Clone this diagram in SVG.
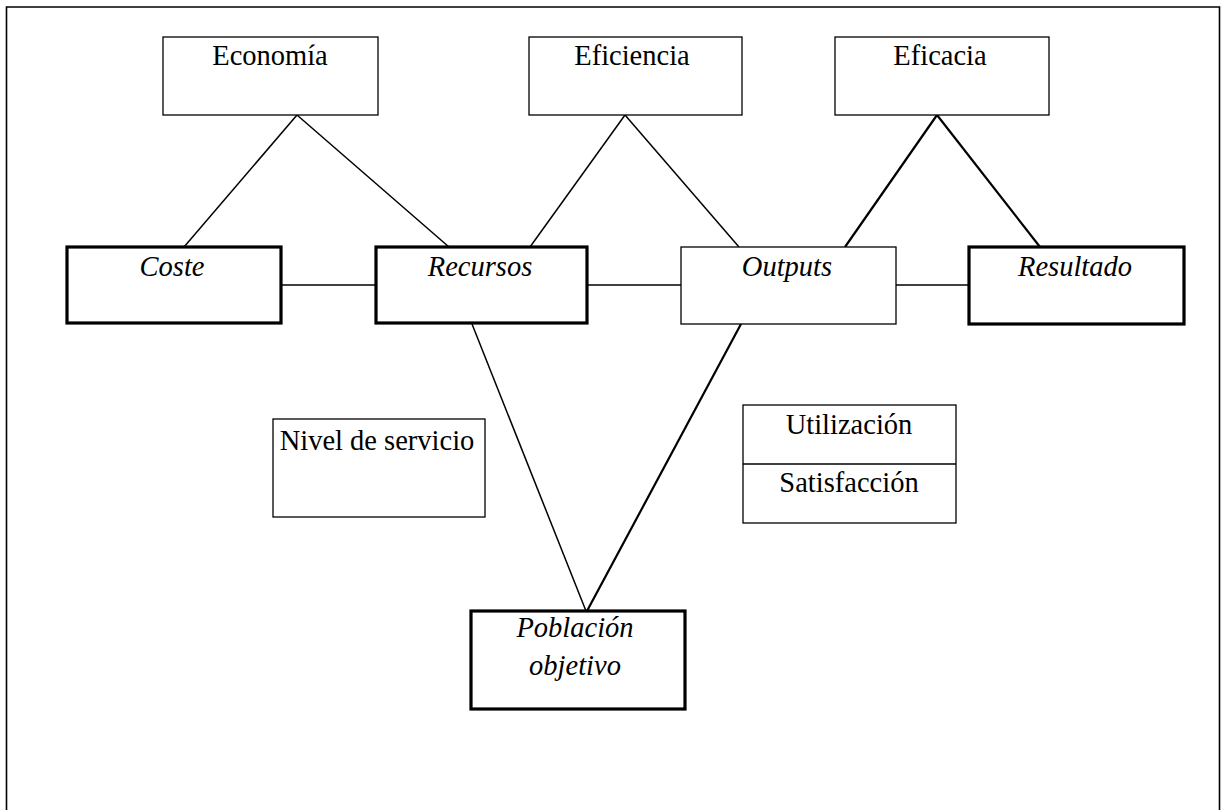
<svg xmlns="http://www.w3.org/2000/svg" width="1226" height="810" viewBox="0 0 1226 810">
  <defs>
    <style>
      .box { fill: #fff; stroke: #000; stroke-width: 1.3; }
      .bold { fill: #fff; stroke: #000; stroke-width: 3.2; }
      .link { stroke: #000; stroke-width: 1.5; fill: none; }
      .link2 { stroke: #000; stroke-width: 2.2; fill: none; }
      .lbl { font-family: "Liberation Serif", "Times New Roman", serif; font-size: 28.5px; fill: #000; text-anchor: middle; }
      .it { font-style: italic; }
    </style>
  </defs>
  <rect width="1226" height="810" fill="#fff"/>
  <!-- outer frame (open at the bottom) -->
  <path d="M6.5,812 V7 H1219.5 V812" fill="none" stroke="#000" stroke-width="1.6"/>

  <g id="connectors">
    <line class="link" x1="297" y1="115" x2="184" y2="247"/>
    <line class="link" x1="297" y1="115" x2="449" y2="247"/>
    <line class="link" x1="625" y1="115" x2="530" y2="247"/>
    <line class="link" x1="625" y1="115" x2="739" y2="247"/>
    <line class="link2" x1="937" y1="115" x2="845" y2="247"/>
    <line class="link2" x1="937" y1="115" x2="1040" y2="247"/>
    <line class="link" x1="281" y1="285" x2="376" y2="285"/>
    <line class="link" x1="587" y1="285" x2="681" y2="285"/>
    <line class="link" x1="896" y1="285" x2="969" y2="285"/>
    <line class="link" x1="472" y1="324" x2="586" y2="611"/>
    <line class="link2" x1="741" y1="324" x2="587" y2="611"/>
  </g>

  <g id="economia">
    <rect class="box" x="163" y="37" width="215" height="78"/>
    <text class="lbl" x="270" y="65" font-family="Liberation Serif, serif">Economía</text>
  </g>
  <g id="eficiencia">
    <rect class="box" x="529" y="37" width="213" height="78"/>
    <text class="lbl" x="632" y="65" font-family="Liberation Serif, serif">Eficiencia</text>
  </g>
  <g id="eficacia">
    <rect class="box" x="835" y="37" width="214" height="78"/>
    <text class="lbl" x="940" y="65" font-family="Liberation Serif, serif">Eficacia</text>
  </g>

  <g id="coste">
    <rect class="bold" x="67" y="247" width="214" height="76"/>
    <text class="lbl it" x="172" y="276" font-family="Liberation Serif, serif">Coste</text>
  </g>
  <g id="recursos">
    <rect class="bold" x="376" y="247" width="211" height="76"/>
    <text class="lbl it" x="480" y="276" font-family="Liberation Serif, serif">Recursos</text>
  </g>
  <g id="outputs">
    <rect class="box" x="681" y="247" width="215" height="77"/>
    <text class="lbl it" x="787" y="276" font-family="Liberation Serif, serif">Outputs</text>
  </g>
  <g id="resultado">
    <rect class="bold" x="969" y="247" width="215" height="77"/>
    <text class="lbl it" x="1075" y="276" font-family="Liberation Serif, serif">Resultado</text>
  </g>

  <g id="nivel-servicio">
    <rect class="box" x="273" y="419" width="212" height="98"/>
    <text class="lbl" x="377" y="450" font-family="Liberation Serif, serif">Nivel de servicio</text>
  </g>

  <g id="utilizacion-satisfaccion">
    <rect class="box" x="743" y="405" width="213" height="118"/>
    <line class="link" x1="743" y1="464" x2="956" y2="464"/>
    <text class="lbl" x="849" y="434" font-family="Liberation Serif, serif">Utilización</text>
    <text class="lbl" x="849" y="492" font-family="Liberation Serif, serif">Satisfacción</text>
  </g>

  <g id="poblacion-objetivo">
    <rect class="bold" x="471" y="611" width="214" height="98"/>
    <text class="lbl it" x="575" y="637" font-family="Liberation Serif, serif">Población</text>
    <text class="lbl it" x="575" y="675" font-family="Liberation Serif, serif">objetivo</text>
  </g>
</svg>
